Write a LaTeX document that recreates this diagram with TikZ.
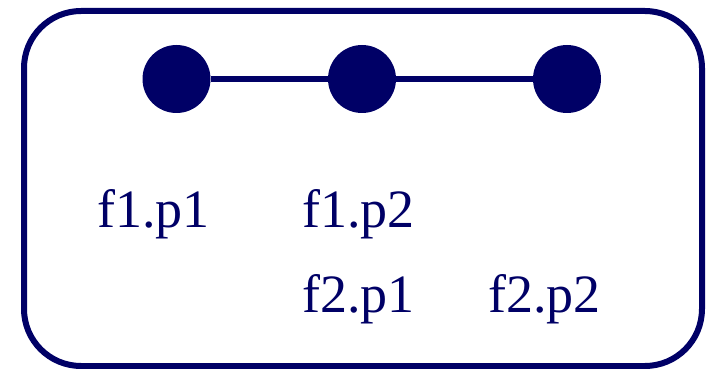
\documentclass[tikz,border=0pt]{standalone}
\usepackage{fontspec}
\setmainfont{Liberation Serif}
\definecolor{navy}{HTML}{000066}
\begin{document}
\begin{tikzpicture}[x=1pt,y=-1pt,
  dot/.style={circle,fill=navy,minimum size=68pt,inner sep=0pt},
  lbl/.style={anchor=base west,inner sep=0pt,text=navy,font=\fontsize{54}{60}\selectfont},
  link/.style={draw=navy,line width=5.5pt}]
\useasboundingbox (0,0) rectangle (713,369);
\node[draw=navy,line width=6pt,rounded corners=57pt,minimum width=678pt,minimum height=355pt,inner sep=0pt] (frame) at (363,188.5) {};
\node[dot] (a) at (176.5,79) {};
\node[dot] (b) at (362,79) {};
\node[dot] (c) at (567,79) {};
\draw[link] (a) -- (b);
\draw[link] (b) -- (c);
\node[lbl] (t1) at (97,227) {f1.p1};
\node[lbl] (t2) at (302,227) {f1.p2};
\node[lbl] (t3) at (302,312) {f2.p1};
\node[lbl] (t4) at (488,312) {f2.p2};
\end{tikzpicture}
\end{document}
